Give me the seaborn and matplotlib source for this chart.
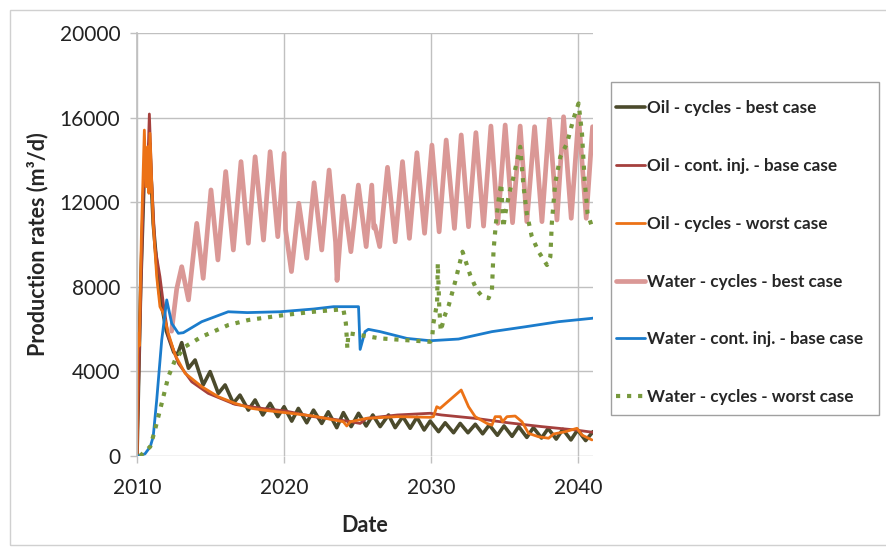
import numpy as np
import pandas as pd
import matplotlib
matplotlib.use("Agg")
import matplotlib.pyplot as plt
from matplotlib.patches import Rectangle
import seaborn as sns

# ---------------------------------------------
# data (year, m3/d)
# ---------------------------------------------
best_x = [2010.0, 2010.25, 2010.5, 2010.7, 2010.85, 2011.1, 2011.5, 2012.0, 2012.5, 2012.75,
          2013.04, 2013.5, 2013.95, 2014.5, 2014.97, 2015.53, 2015.99, 2016.55, 2017.0, 2017.57,
          2018.03, 2018.55, 2019.05, 2019.57, 2020.0, 2020.52, 2020.97, 2021.54, 2022.0, 2022.56,
          2023.0, 2023.58, 2024.03, 2024.56, 2025.06, 2025.58, 2026.03, 2026.53, 2027.1, 2027.55,
          2028.07, 2028.57, 2029.03, 2029.52, 2029.93, 2030.5, 2030.95, 2031.52, 2031.97, 2032.5,
          2033.0, 2033.5, 2033.95, 2034.5, 2034.95, 2035.5, 2035.95, 2036.5, 2036.95, 2037.5,
          2037.95, 2038.5, 2038.95, 2039.5, 2039.95, 2040.5, 2041.0]
best_y = [0, 8000, 13500, 14000, 14800, 11000, 7800, 5900, 4900, 4800,
          5360, 4150, 4540, 3360, 3990, 2960, 3360, 2490, 2880, 2170,
          2650, 1940, 2490, 1860, 2330, 1650, 2250, 1570, 2170, 1540,
          2090, 1340, 2050, 1390, 2020, 1420, 1940, 1390, 1940, 1340,
          1860, 1310, 1830, 1230, 1650, 1150, 1570, 1100, 1540, 1100,
          1500, 1050, 1470, 980, 1420, 930, 1390, 880, 1340, 850,
          1300, 800, 1260, 760, 1230, 730, 1150]

base_x = [2010.0, 2010.2, 2010.45, 2010.6, 2010.7, 2010.84, 2011.0, 2011.22, 2011.56, 2011.79,
          2012.13, 2012.81, 2013.72, 2014.85, 2016.67, 2018.5, 2020.07, 2022.0, 2024.3, 2025.17,
          2025.6, 2027.7, 2029.93, 2030.7, 2033.0, 2035.25, 2037.5, 2039.8, 2041.0]
base_y = [0, 6000, 13000, 14300, 13000, 16170, 13000, 9900, 8480, 7220,
          5640, 4380, 3510, 2960, 2440, 2250, 2130, 1860, 1650, 1540,
          1780, 1940, 2020, 1940, 1780, 1570, 1390, 1230, 1120]

worst_x = [2010.0, 2010.03, 2010.08, 2010.15, 2010.3, 2010.5, 2010.61, 2010.73, 2010.81, 2010.88,
           2011.1, 2011.34, 2011.56, 2011.79, 2012.13, 2012.59, 2013.27, 2014.4, 2015.53, 2016.67,
           2017.8, 2018.93, 2020.07, 2022.0, 2024.03, 2024.26, 2024.5, 2025.62, 2027.66, 2029.93,
           2030.15, 2030.38, 2030.6, 2032.04, 2032.54, 2032.99, 2033.79, 2034.13, 2034.35, 2034.7,
           2034.85, 2035.15, 2035.71, 2036.17, 2036.62, 2037.3, 2037.98, 2038.32, 2039.12, 2039.91,
           2040.25, 2040.93]
worst_y = [0, 4700, 5800, 5200, 10500, 15410, 12730, 14620, 12420, 15260,
           11000, 8480, 7060, 6750, 5800, 4780, 3910, 3280, 2800, 2490,
           2250, 2140, 2050, 1890, 1620, 1420, 1620, 1780, 1860, 1830,
           1860, 2330, 2250, 3120, 2330, 1860, 1540, 1460, 1860, 1860,
           1620, 1860, 1890, 1620, 1070, 910, 840, 1040, 1150, 1310,
           990, 760]

wbest_x = [2012.35, 2012.7, 2013.04, 2013.5, 2014.06, 2014.5, 2015.03, 2015.5, 2016.03, 2016.55,
           2017.07, 2017.57, 2018.03, 2018.6, 2019.05, 2019.57, 2020.0, 2020.1, 2020.5, 2021.0,
           2021.54, 2022.04, 2022.56, 2023.06, 2023.5, 2023.6, 2024.03, 2024.54, 2025.05, 2025.58,
           2025.96, 2026.1, 2026.17, 2026.5, 2027.03, 2027.55, 2028.05, 2028.52, 2029.03, 2029.55,
           2030.05, 2030.54, 2031.02, 2031.58, 2032.04, 2032.54, 2033.04, 2033.56, 2034.06, 2034.53,
           2035.03, 2035.53, 2036.05, 2036.5, 2037.03, 2037.53, 2038.03, 2038.55, 2039.0, 2039.52,
           2040.02, 2040.54, 2040.97]
wbest_y = [5900, 7900, 8950, 7380, 11000, 8400, 12580, 9270, 13450, 9740,
           13920, 10060, 14150, 10210, 14390, 10370, 14310, 10690, 8720, 11950,
           9350, 12920, 9740, 13520, 10100, 8300, 12290, 9660, 12810, 9900,
           12810, 10780, 10900, 9900, 13650, 10130, 13920, 10290, 14340, 10530,
           14700, 10600, 14940, 10760, 15180, 10840, 15290, 10870, 15600, 11000,
           15650, 11030, 15600, 11080, 15570, 11080, 15920, 11160, 16040, 11240,
           16080, 11240, 15570]

wbase_x = [2010.0, 2010.54, 2010.9, 2011.1, 2011.34, 2011.68, 2012.02, 2012.36, 2012.81, 2013.15,
           2014.4, 2016.2, 2017.5, 2019.73, 2022.0, 2023.36, 2025.06, 2025.17, 2025.5, 2025.73,
           2026.53, 2028.35, 2029.93, 2031.86, 2034.13, 2036.4, 2038.66, 2040.93, 2041.0]
wbase_y = [0, 100, 440, 910, 2650, 5480, 7380, 6270, 5800, 5830,
           6350, 6820, 6780, 6820, 6950, 7060, 7060, 5040, 5880, 5990,
           5880, 5560, 5450, 5530, 5880, 6110, 6350, 6510, 6520]

wworst_x = [2010.2, 2010.9, 2011.22, 2011.68, 2012.13, 2012.59, 2013.27, 2014.4, 2016.2, 2017.57,
            2020.07, 2022.0, 2024.03, 2024.2, 2024.27, 2024.3, 2024.37, 2024.7, 2026.53, 2029.93,
            2030.05, 2030.15, 2030.4, 2030.45, 2030.55, 2030.65, 2030.9, 2031.2, 2031.63, 2032.13,
            2032.65, 2033.1, 2033.49, 2033.9, 2034.13, 2034.24, 2034.4, 2034.58, 2034.76, 2034.9,
            2035.05, 2035.3, 2035.6, 2036.05, 2036.28, 2036.5, 2036.84, 2037.3, 2037.87, 2038.1,
            2038.2, 2038.43, 2038.78, 2039.23, 2039.68, 2040.02, 2040.25, 2040.43, 2040.63, 2040.93]
wworst_y = [0, 440, 1230, 2490, 3750, 4540, 5170, 5640, 6190, 6430,
            6670, 6820, 6940, 6270, 5480, 5090, 5800, 5770, 5560, 5400,
            5480, 6270, 7220, 9110, 7000, 5900, 6600, 7140, 8240, 9660,
            8560, 7850, 7530, 7460, 7850, 9740, 11000, 12100, 12890, 10800,
            11500, 12400, 13210, 14620, 12730, 11470, 10370, 9660, 9030, 9420,
            11000, 12890, 14150, 14780, 15960, 16670, 15260, 13050, 11470, 10840]

series = [
    ("Oil - cycles - best case", best_x, best_y, "#4b4a2c", 2.6, "-"),
    ("Oil - cont. inj. - base case", base_x, base_y, "#a5403d", 2.0, "-"),
    ("Oil - cycles - worst case", worst_x, worst_y, "#ec7216", 2.0, "-"),
    ("Water - cycles - best case", wbest_x, wbest_y, "#da9896", 3.4, "-"),
    ("Water - cont. inj. - base case", wbase_x, wbase_y, "#1b7ccc", 2.0, "-"),
    ("Water - cycles - worst case", wworst_x, wworst_y, "#77993d", 3.0, ":"),
]

# ---------------------------------------------
# plot
# ---------------------------------------------
sns.set_theme(style="whitegrid")
plt.rcParams['font.family'] = ['Lato', 'DejaVu Sans']

fig = plt.figure(figsize=(8.87, 5.5), dpi=100)
ax = fig.add_axes([137 / 887, 94 / 550, 456 / 887, 423 / 550])

for name, xs, ys, color, lw, ls in series:
    df = pd.DataFrame({"Date": xs, "rate": ys})
    sns.lineplot(data=df, x="Date", y="rate", ax=ax, color=color, lw=lw, linestyle=ls,
                 estimator=None, sort=False, label=name)

ax.set_xlim(2010, 2041)
ax.set_ylim(0, 20000)
ax.set_xticks([2010, 2020, 2030, 2040])
ax.set_yticks(np.arange(0, 20001, 4000))
ax.grid(True, color="#c0c0c0", lw=1.0)
ax.set_axisbelow(True)
for side in ["top", "right", "bottom"]:
    ax.spines[side].set_visible(False)
ax.spines["left"].set_color("#c0c0c0")
ax.tick_params(axis="both", which="major", labelsize=15, length=5, width=1,
               color="#c0c0c0", direction="out", pad=7, labelcolor="#222222")
ax.tick_params(axis="x", pad=11)
ax.tick_params(bottom=True, left=True)

ax.set_xlabel("Date", fontsize=15.5, fontweight="bold", labelpad=12)
ax.set_ylabel("Production rates (m³/d)", fontsize=15.5, fontweight="bold", labelpad=8)

# legend without its own frame; the box is drawn separately at the reference position
leg = ax.legend(loc="upper left", bbox_to_anchor=(616 / 887, 1 - 100 / 550),
                bbox_transform=fig.transFigure, borderaxespad=0, borderpad=0,
                frameon=False, fontsize=12.3, handlelength=1.7, handletextpad=0.1,
                labelspacing=2.45)
for t in leg.get_texts():
    t.set_fontweight("bold")

fig.patches.append(Rectangle((611 / 887, 1 - 415 / 550), 268 / 887, 333 / 550,
                             transform=fig.transFigure, fill=False,
                             edgecolor="#a0a0a0", lw=1.0))

# light frame round the whole chart
fig.patches.append(Rectangle((10 / 887, 5 / 550), 1.0, 535 / 550, transform=fig.transFigure,
                             fill=False, edgecolor="#d0d0d0", lw=1.0))

plt.savefig("out.png", dpi=100)
